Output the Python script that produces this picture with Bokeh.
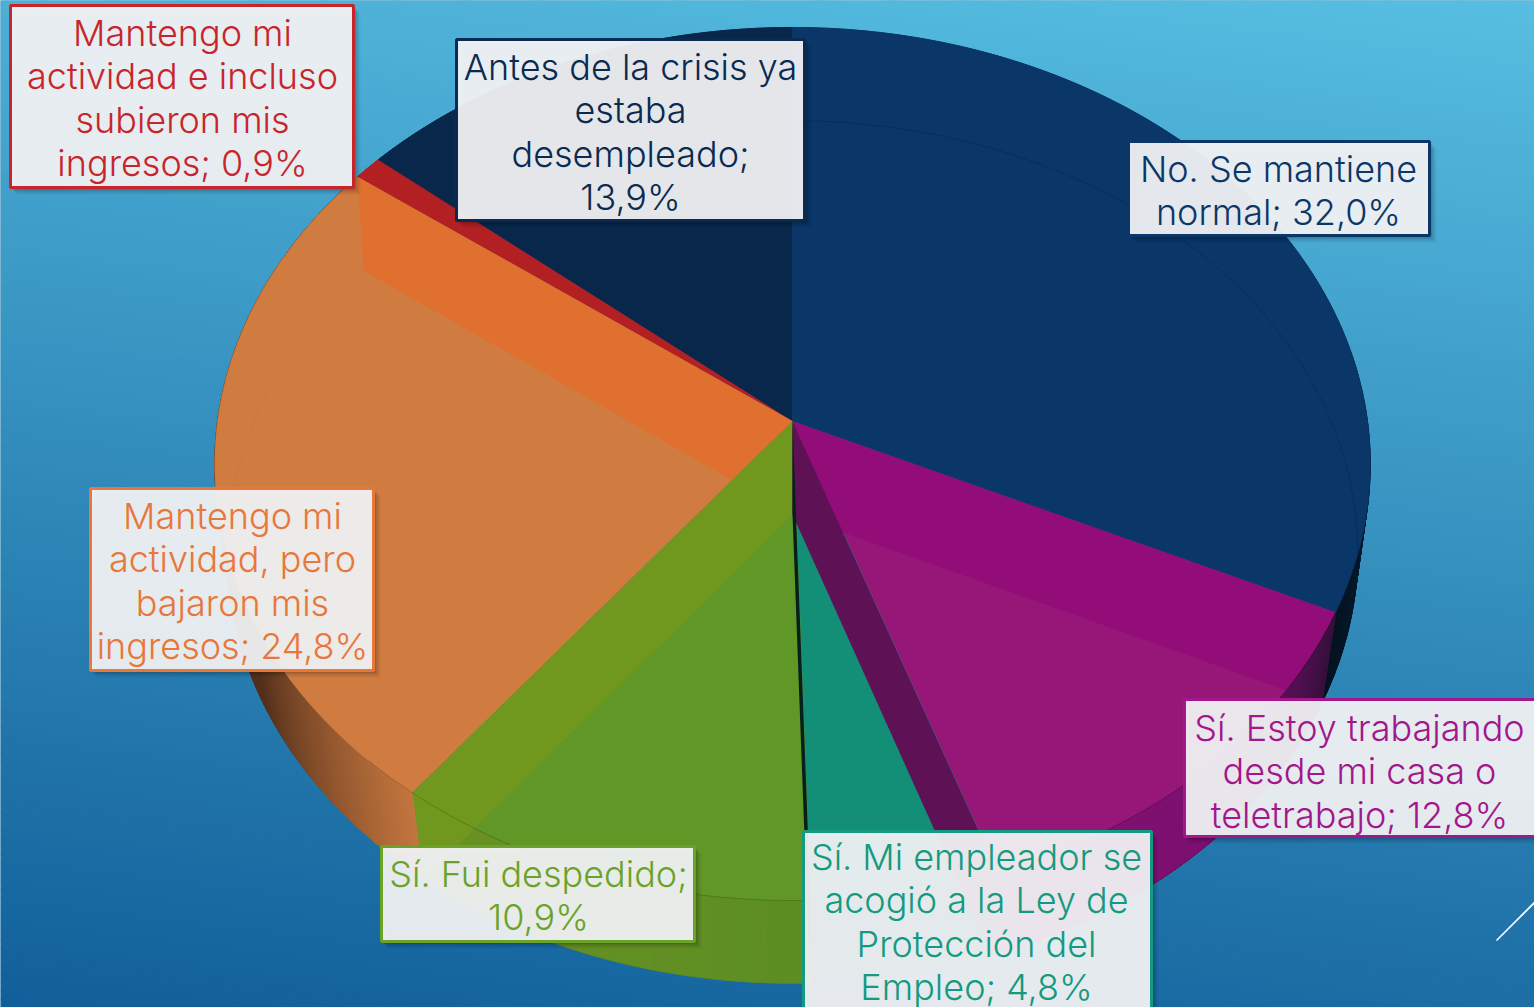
import numpy as np
from bokeh.plotting import figure
from bokeh.embed import file_html
from bokeh.resources import INLINE
from bokeh.core.properties import value

# ---- data (clockwise from 12 o'clock) ----
categories = [
    "No. Se mantiene normal",
    "Sí. Estoy trabajando desde mi casa o teletrabajo",
    "Sí. Mi empleador se acogió a la Ley de Protección del Empleo",
    "Sí. Fui despedido",
    "Mantengo mi actividad, pero bajaron mis ingresos",
    "Mantengo mi actividad e incluso subieron mis ingresos",
    "Antes de la crisis ya estaba desempleado",
]
shares = [32.0, 12.8, 4.8, 10.9, 24.8, 0.9, 13.9]
label_lines = [
    ["No. Se mantiene", "normal; 32,0%"],
    ["Sí. Estoy trabajando", "desde mi casa o", "teletrabajo; 12,8%"],
    ["Sí. Mi empleador se", "acogió a la Ley de", "Protección del", "Empleo; 4,8%"],
    ["Sí. Fui despedido;", "10,9%"],
    ["Mantengo mi", "actividad, pero", "bajaron mis", "ingresos; 24,8%"],
    ["Mantengo mi", "actividad e incluso", "subieron mis", "ingresos; 0,9%"],
    ["Antes de la crisis ya", "estaba", "desempleado;", "13,9%"],
]

# ---- styles and layout ----
W, H = 1534, 1007
FONT = "Inter Light"
FONT_SIZE = "36px"
face_col = ["#0A3767", "#961778", "#138F78", "#619726", "#D07C40", "#B22024", "#08274A"]
# colour of the wall seen at the END edge of each slice (None = no visible wall)
wall_col = ["#930D78", "#5E1255", "#06201C", "#70981F", "#E07030", None, None]
rim_stops = [
    [(0, "#0A3767"), (0.6, "#0A3060"), (1, "#04121F")],
    [(0, "#33103A"), (0.45, "#7A1070"), (1, "#86116F")],
    [(0, "#0F7060"), (1, "#0F7060")],
    [(0, "#5C8E24"), (1, "#6B9222")],
    [(0, "#C4763E"), (0.3, "#54301B"), (1, "#54301B")],
    [(0, "#B22024"), (1, "#B22024")],
    [(0, "#08274A"), (1, "#08274A")],
]
text_col = ["#0A3767", "#A3168C", "#149A80", "#6BA32A", "#E8773A", "#C8252B", "#0A2A50"]
box_edge = ["#0A3767", "#A3168C", "#149A80", "#6BA32A", "#E8773A", "#C8252B", "#0A2A50"]
# label boxes (left, top, right, bottom), first line and centre, in picture pixels
boxes = [(1128, 141, 1429, 235), (1184, 699, 1540, 836), (803, 831, 1151, 1015),
         (381, 846, 694, 941), (90, 488, 373, 670), (10, 5, 353, 187), (456, 39, 804, 220)]
first_base = [168, 727, 856, 873, 515, 32, 66]
text_cx = [1278, 1359, 976, 538, 232, 182, 630]
LINE = 43.6

UP = dict(cy=421.0, a=575.0, b=432.4, k=-0.0974)
LO = dict(cy=514.0, a=563.0, b=428.0, k=-0.087)
CX = 792.0


def proj(f, d):
    f = np.asarray(f, dtype=float)
    u, v = np.sin(2 * np.pi * f), -np.cos(2 * np.pi * f)
    den = 1 + d["k"] * v
    return CX + d["a"] * u / den, d["cy"] + d["b"] * v / den


def hex2rgb(c):
    return np.array([int(c[i:i + 2], 16) for i in (1, 3, 5)], dtype=float)


def rgb2hex(c):
    return "#%02X%02X%02X" % tuple(int(round(v)) for v in c)


def mix(stops, t):
    ts = [s[0] for s in stops]
    cs = np.array([hex2rgb(s[1]) for s in stops])
    return rgb2hex([np.interp(t, ts, cs[:, i]) for i in range(3)])


total = sum(shares)
cum = np.concatenate([[0], np.cumsum(shares)]) / total

p = figure(width=W, height=H, x_range=(0, W), y_range=(H, 0),
           toolbar_location=None, output_backend="svg", min_border=0,
           outline_line_color=None, background_fill_color="#2F86B6")
p.axis.visible = False
p.grid.visible = False

# background gradient as tilted bands
TOP, BOT = hex2rgb("#57BEE1"), hex2rgb("#115F9A")
TILT = 0.12
N = 140
span = H + TILT * W
bx, by, bc = [], [], []
for i in range(N):
    c0, c1 = span * i / N, span * (i + 1) / N + 1
    bx.append([0, W, W, 0])
    by.append([c0 - TILT * W, c0, c1, c1 - TILT * W])
    t = (i + 0.5) / N
    bc.append(rgb2hex(TOP * (1 - t) + BOT * t))
p.patches(bx, by, fill_color=bc, line_color=None)


def draw_rim(i):
    n = max(3, int(shares[i] * 8))
    edges = np.linspace(cum[i], cum[i + 1], n + 1)
    xs, ys, cols = [], [], []
    for j in range(n):
        ff = np.linspace(edges[j], edges[j + 1], 3)
        ux, uy = proj(ff, UP)
        lx, ly = proj(ff[::-1], LO)
        xs.append(np.r_[ux, lx])
        ys.append(np.r_[uy, ly])
        cols.append(mix(rim_stops[i], (j + 0.5) / n))
    p.patches(xs, ys, fill_color=cols, line_color=cols, line_width=1)


def draw_face(i):
    ff = np.linspace(cum[i], cum[i + 1], max(4, int(shares[i] * 4)))
    ax, ay = proj(ff, UP)
    x = np.r_[CX, ax]
    y = np.r_[UP["cy"], ay]
    p.patch(x, y, fill_color=face_col[i], line_color=face_col[i], line_width=0.6)


def draw_wall(i):
    if wall_col[i] is None:
        return
    ux, uy = proj(cum[i + 1], UP)
    lx, ly = proj(cum[i + 1], LO)
    p.patch([CX, float(ux), float(lx), CX], [UP["cy"], float(uy), float(ly), LO["cy"]],
            fill_color=wall_col[i], line_color=None)


# rim walls, behind everything else
for i in range(len(shares)):
    draw_rim(i)
# painter's order: later slices hide the walls that pass behind them
for i in [6, 5, 4]:
    draw_face(i)
draw_wall(4)
for i in [0, 1, 2, 3]:
    draw_face(i)
for i in [0, 1, 3, 2]:
    draw_wall(i)
draw_rim(1)
p.line([CX, CX], [UP["cy"], LO["cy"]], line_color="#10261C", line_alpha=0.3, line_width=1)

# thin rim lines
lx, ly = proj(np.linspace(0, 0.45, 160), LO)
p.line(lx, ly, line_color="#000000", line_alpha=0.16, line_width=1)
lx, ly = proj(np.linspace(0.45, 1, 200), LO)
p.line(lx, ly, line_color="#000000", line_alpha=0.03, line_width=1)
ux, uy = proj(np.linspace(0.3, 0.62, 120), UP)
p.line(ux, uy, line_color="#000000", line_alpha=0.18, line_width=1)

# decorative slide stroke
p.line([1496, 1540], [940, 896], line_color="#FFFFFF", line_width=1.6)

# labels
for i, (l, t, r, b) in enumerate(boxes):
    for off, alpha in ((7, 0.05), (5, 0.08), (3, 0.12)):
        p.quad(left=l + off - 1, right=r + off, top=t + off, bottom=b + off,
               fill_color="#000000", fill_alpha=alpha, line_color=None)
    p.quad(left=l, right=r, top=t, bottom=b, fill_color="#F2F3F5", fill_alpha=0.94,
           line_color=box_edge[i], line_width=3)
    for j, s in enumerate(label_lines[i]):
        p.text(x=[text_cx[i]], y=[first_base[i] + j * LINE], text=[s],
               text_font=value(FONT), text_font_size=FONT_SIZE, text_color=text_col[i],
               text_align="center", text_baseline="alphabetic")

open("out.html", "w").write(file_html(p, INLINE, title="Situación laboral"))
